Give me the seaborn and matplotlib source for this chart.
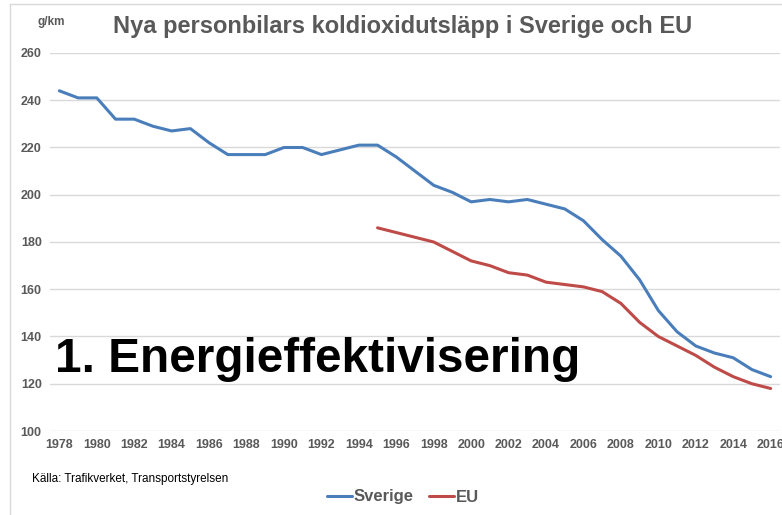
import numpy as np
import pandas as pd
import seaborn as sns
import matplotlib.pyplot as plt
from matplotlib.lines import Line2D

# Data (g CO2/km, new passenger cars)
years_se = list(range(1978, 2017))
sverige = [244, 241, 241, 232, 232, 229, 227, 228, 222, 217,
           217, 217, 220, 220, 217, 219, 221, 221, 216, 210,
           204, 201, 197, 198, 197, 198, 196, 194, 189, 181,
           174, 164, 151, 142, 136, 133, 131, 126, 123]
years_eu = list(range(1995, 2017))
eu = [186, 184, 182, 180, 176, 172, 170, 167, 166, 163,
      162, 161, 159, 154, 146, 140, 136, 132, 127, 123,
      120, 118]
xtick_years = list(range(1978, 2017, 2))
ytick_vals = list(range(100, 261, 20))

df = pd.concat([
    pd.DataFrame({'year': years_se, 'value': sverige, 'serie': 'Sverige'}),
    pd.DataFrame({'year': years_eu, 'value': eu, 'serie': 'EU'}),
])

sns.set_style("white")
plt.rcParams['font.family'] = ['Liberation Sans', 'DejaVu Sans']

grey = '#595959'
colors = {'Sverige': '#4A7EBB', 'EU': '#BE4B48'}

fig = plt.figure(figsize=(7.82, 5.15), dpi=100)
ax = fig.add_axes([50/782, 1-431/515, 730/782, 378/515])

sns.lineplot(data=df, x='year', y='value', hue='serie', palette=colors,
             linewidth=2.2, ax=ax, legend=False)

ax.set(xlim=(1977.5, 2016.5), ylim=(100, 260), xlabel='', ylabel='')
ax.set_xticks(xtick_years)
ax.set_yticks(ytick_vals)
ax.tick_params(length=0, labelsize=9, labelcolor=grey, pad=6)
for lab in ax.get_xticklabels() + ax.get_yticklabels():
    lab.set_fontweight('bold')
ax.yaxis.grid(True, color='#D9D9D9', linewidth=1)
ax.set_axisbelow(True)
sns.despine(ax=ax, left=True, bottom=True)

# Titles and notes
fig.text(403/782, 1-27/515, 'Nya personbilars koldioxidutsläpp i Sverige och EU',
         ha='center', va='center', fontsize=17, fontweight='bold', color=grey)
fig.text(37/782, 1-22/515, 'g/km', ha='left', va='center', fontsize=8.5,
         fontweight='bold', color=grey)
fig.text(55/782, 1-372/515, '1. Energieffektivisering', ha='left', va='baseline',
         fontsize=34.4, fontweight='bold', color='black')
fig.text(32/782, 1-479/515, 'Källa: Trafikverket, Transportstyrelsen', ha='left',
         va='center', fontsize=8.5, color='black')

# Legend
handles = [Line2D([], [], color=colors['Sverige'], linewidth=2.2),
           Line2D([], [], color=colors['EU'], linewidth=2.2)]
leg = fig.legend(handles, ['Sverige', 'EU'], loc='center',
                 bbox_to_anchor=(403/782, 1-497/515), ncol=2, frameon=False,
                 handlelength=1.5, handletextpad=0.1, columnspacing=0.9,
                 prop={'size': 12, 'weight': 'bold'})
for t in leg.get_texts():
    t.set_color(grey)

# Chart frame
fig.add_artist(Line2D([10/782, 1], [1-4/515, 1-4/515], color='#D9D9D9', linewidth=1))
fig.add_artist(Line2D([10/782, 10/782], [0, 1-4/515], color='#D9D9D9', linewidth=1))

fig.savefig('out.png', dpi=100)
